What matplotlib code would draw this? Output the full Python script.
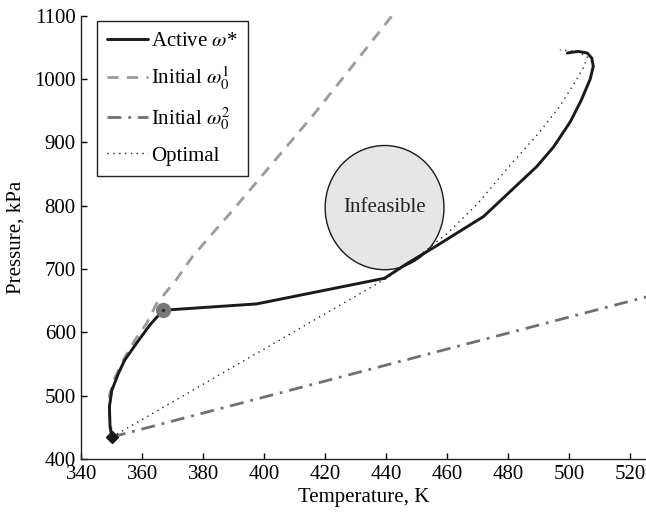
import matplotlib
matplotlib.use("Agg")
import matplotlib.pyplot as plt
from matplotlib.patches import Ellipse

plt.rcParams["font.family"] = ["Liberation Serif", "DejaVu Serif"]
plt.rcParams["mathtext.fontset"] = "stix"
plt.rcParams["font.size"] = 15

# Active trajectory (temperature K, pressure kPa)
active_T = [350.0, 349.4, 349.2, 350.0, 352.2, 354.3, 358.1, 362.5, 366.8,
            397.5, 439.5, 447.0, 457.0, 472.0, 482.4, 489.5, 495.0, 500.4,
            504.0, 507.0, 508.0, 507.5, 506.0, 503.0, 499.5]
active_P = [435, 451, 483, 509, 536, 557, 583, 612, 635,
            645, 685.5, 709, 738, 783, 830, 862, 893, 932,
            966, 1000, 1020, 1033, 1041, 1043.5, 1041]

# First initial guess
init1_T = [350.0, 349.2, 349.2, 351.1, 354.4, 357.6, 361.5, 364.6, 371.1,
           376.5, 390.6, 403.6, 416.6, 428.7, 442.0]
init1_P = [435, 470, 501, 530, 562, 588, 615, 645, 683,
           720, 798, 872, 946, 1019, 1100]

# Second initial guess
init2_T = [350.0, 525.3]
init2_P = [435, 656]

# Optimal trajectory
opt_T = [350.0, 440.0, 450.0, 460.0, 470.0, 480.0, 490.0, 497.0, 502.0,
         505.0, 506.0, 503.0, 497.0]
opt_P = [435, 685, 718, 756, 803, 860, 914, 957, 995,
         1020, 1035, 1043, 1046]

# Start point and switching point
start_pt = (350.0, 435)
switch_pt = (366.8, 635)

# Infeasible region
region_center = (439.5, 797)
region_width = 39.0
region_height = 196.0

fig = plt.figure(figsize=(6.46, 5.2), dpi=100)
ax = fig.add_axes([0.126, 0.117, 0.874, 0.853])

ax.add_patch(Ellipse(region_center, region_width, region_height,
                     facecolor="#e6e6e6", edgecolor="#1a1a1a", lw=1.0, zorder=1))
ax.text(region_center[0], region_center[1], "Infeasible", ha="center",
        va="center", fontsize=15, color="#222222", zorder=2)

ax.plot(init1_T, init1_P, color="#9a9a9a", lw=2.0, dashes=(4, 3),
        label=r"Initial $\omega_0^1$", zorder=2)
ax.plot(init2_T, init2_P, color="#707070", lw=2.0, dashes=(5, 2.5, 1, 2.5),
        label=r"Initial $\omega_0^2$", zorder=2)
ax.plot(opt_T, opt_P, color="#222222", lw=1.0, ls=(0, (1, 3.2)),
        label="Optimal", zorder=2)
ax.plot(active_T, active_P, color="#1a1a1a", lw=2.1,
        label=r"Active $\omega$*", zorder=3, solid_capstyle="round")

ax.plot(*start_pt, marker="D", color="#1a1a1a", ms=6.5, zorder=4)
ax.plot(*switch_pt, marker="o", color="#777777", ms=10, zorder=4)
ax.plot(*switch_pt, marker="o", color="#333333", ms=1.5, zorder=5)

ax.set_xlim(340, 525.3)
ax.set_ylim(400, 1100)
ax.set_xticks(range(340, 521, 20))
ax.set_yticks(range(400, 1101, 100))
ax.spines["top"].set_visible(False)
ax.spines["right"].set_visible(False)
for s in ("left", "bottom"):
    ax.spines[s].set_linewidth(1.0)
    ax.spines[s].set_color("#222222")
ax.tick_params(direction="in", length=4, width=1.0, labelsize=15, pad=4)
ax.set_xlabel("Temperature, K", fontsize=15, labelpad=3)
ax.set_ylabel("Pressure, kPa", fontsize=15, labelpad=6)

handles, labels = ax.get_legend_handles_labels()
order = [3, 0, 1, 2]
leg = ax.legend([handles[i] for i in order], [labels[i] for i in order],
                loc="upper left", bbox_to_anchor=(0.027, 0.988),
                borderaxespad=0, fancybox=False, framealpha=1,
                edgecolor="#222222", handlelength=1.95, handletextpad=0.15,
                labelspacing=0.66, borderpad=0.5, fontsize=15)
leg.get_frame().set_linewidth(1.0)

fig.savefig("out.png", dpi=100)
